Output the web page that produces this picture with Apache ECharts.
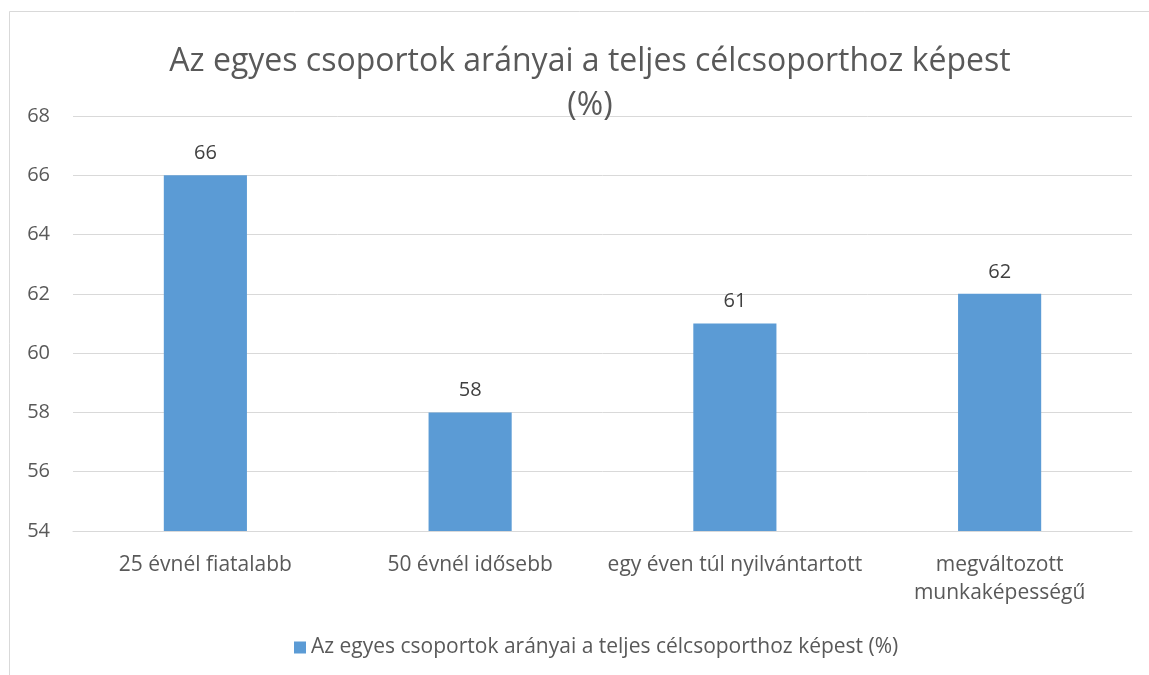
<!DOCTYPE html>
<html><head><meta charset="utf-8">
<script src="https://cdn.jsdelivr.net/npm/echarts@6/dist/echarts.min.js"></script>
<style>html,body{margin:0;padding:0;background:#fff}#c{width:1149px;height:675px}</style>
</head><body><div id="c"></div>
<script>
const titleText = 'Az egyes csoportok arányai a teljes célcsoporthoz képest\n(%)';
const seriesName = 'Az egyes csoportok arányai a teljes célcsoporthoz képest (%)';
const categories = ['25 évnél fiatalabb', '50 évnél idősebb', 'egy éven túl nyilvántartott', 'megváltozott\nmunkaképességű'];
const values = [66, 58, 61, 62];
const yMin = 54, yMax = 68, yStep = 2;

const FONT = '"Open Sans", sans-serif';
const chart = echarts.init(document.getElementById('c'));
chart.setOption({
  backgroundColor: '#fff',
  textStyle: {fontFamily: FONT},
  graphic: [{type: 'rect', shape: {x: 9.5, y: 11.5, width: 1150, height: 680}, style: {fill: 'none', stroke: '#d9d9d9', lineWidth: 1}, silent: true, z: -1}],
  title: {
    text: titleText, left: 585, textAlign: 'center', top: 35,
    textStyle: {fontFamily: FONT, fontSize: 32, fontWeight: 'normal', color: '#595959', lineHeight: 44}
  },
  legend: {
    bottom: 12, left: 289, itemWidth: 12, itemHeight: 12, icon: 'rect', itemGap: 6,
    textStyle: {fontFamily: FONT, fontSize: 21, color: '#595959'}
  },
  grid: {left: 73, right: 17, top: 116, bottom: 144, containLabel: false},
  xAxis: {
    type: 'category', data: categories,
    axisLine: {lineStyle: {color: '#d9d9d9'}}, axisTick: {show: false},
    axisLabel: {fontFamily: FONT, fontSize: 21, color: '#595959', margin: 20, lineHeight: 28, interval: 0}
  },
  yAxis: {
    type: 'value', min: yMin, max: yMax, interval: yStep,
    axisLine: {show: false}, axisTick: {show: false},
    splitLine: {lineStyle: {color: '#d9d9d9'}},
    axisLabel: {fontFamily: FONT, fontSize: 20, color: '#595959', margin: 23, align: 'right'}
  },
  series: [{
    name: seriesName, type: 'bar', data: values, barWidth: '31.4%',
    itemStyle: {color: '#5b9bd5'},
    label: {show: true, position: 'top', distance: 12, fontFamily: FONT, fontSize: 20, color: '#404040'}
  }]
});
</script></body></html>
